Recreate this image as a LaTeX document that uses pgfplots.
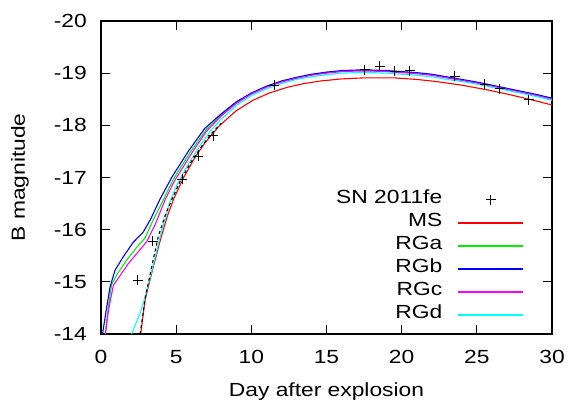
\documentclass[border=0pt]{standalone}
\usepackage{fontspec}
\setmainfont{Liberation Sans}[FakeStretch=1.2]
\usepackage{pgfplots}
\pgfplotsset{compat=1.18}
\definecolor{gpred}{RGB}{255,0,0}
\definecolor{gpgreen}{RGB}{0,240,0}
\definecolor{gpblue}{RGB}{0,0,255}
\definecolor{gpmagenta}{RGB}{255,0,255}
\definecolor{gpcyan}{RGB}{0,255,255}

\begin{document}
\fontsize{19}{23}\selectfont
\begin{tikzpicture}
\begin{axis}[
    scale only axis, width=451pt, height=313pt,
    xmin=0, xmax=30, ymin=-20, ymax=-14, y dir=reverse,
    xtick={0,5,...,30}, ytick={-20,-19,...,-14},
    xticklabel={\pgfmathprintnumber[assume math mode=true]{\tick}},
    yticklabel={\pgfmathprintnumber[assume math mode=true]{\tick}},
    xticklabel style={inner sep=0pt, yshift=-16pt},
    yticklabel style={inner sep=0pt, xshift=-14pt},
    tick align=inside, xtick pos=both, ytick pos=both,
    major tick length=9pt, minor tick num=0,
    axis line style={line width=1.2pt},
    every tick/.style={black, line width=1pt},
    xlabel={Day after explosion}, ylabel={B magnitude},
    xlabel style={at={([yshift=-49pt]axis description cs:0.5,0)}, anchor=north, inner sep=0pt},
    ylabel style={at={([xshift=-72pt]axis description cs:0,0.5)}, anchor=south, inner sep=0pt},
    legend image code/.code={\draw[mark repeat=2,mark phase=2,#1,line width=1.6pt] plot coordinates {(0pt,0pt) (32.5pt,0pt) (65pt,0pt)};},
    legend style={draw=none, fill=none, inner sep=0pt, at={(0.938,0.466)}, anchor=north east,
        legend plot pos=right, cells={anchor=east}, column sep=15pt, row sep=0pt,
        nodes={inner sep=0pt, text height=15pt, text depth=8pt}},
    legend cell align=right,
  ]
  % SN 2011fe observed B band
  \addplot[only marks, mark=+, mark size=5pt, black, mark options={line width=0.8pt}] coordinates {
    (2.45,-15.03)(3.45,-15.78)(5.42,-16.97)(6.47,-17.41)(7.48,-17.80)
    (11.53,-18.77)(17.53,-19.07)(18.53,-19.13)(19.53,-19.04)(20.53,-19.05)
    (23.53,-18.94)(25.53,-18.79)(26.53,-18.70)(28.45,-18.49)};
  \addlegendentry{SN 2011fe}
  % MS
  \addplot[gpred, line width=1.1pt, no marks] coordinates {
    (2.64,-14.0)(2.93,-14.65)(3.4,-15.2)(3.9,-15.75)(4.4,-16.25)(4.85,-16.6)
    (5.5,-17.0)(6.2,-17.36)(6.9,-17.66)(7.9,-18.0)(9.0,-18.28)(10.1,-18.48)
    (11.2,-18.62)(12.4,-18.73)(13.5,-18.8)(14.6,-18.85)(16.0,-18.89)(17.5,-18.91)
    (19.5,-18.91)(21.0,-18.88)(22.3,-18.84)(24.0,-18.77)(25.7,-18.68)(27.0,-18.6)
    (28.5,-18.5)(30.0,-18.39)};
  \addlegendentry{MS}
  % RGa
  \addplot[gpgreen, line width=1.1pt, no marks] coordinates {
    (0.27,-14.0)(0.49,-14.52)(0.71,-14.95)(1.04,-15.13)(1.71,-15.42)(2.37,-15.66)
    (2.93,-15.84)(3.48,-16.19)(4.15,-16.57)(4.8,-16.96)(5.9,-17.47)(7.0,-17.92)
    (8.0,-18.2)(9.0,-18.44)(10.0,-18.61)(11.0,-18.74)(12.0,-18.84)(13.0,-18.91)
    (14.0,-18.97)(15.0,-19.01)(16.0,-19.04)(17.0,-19.05)(18.0,-19.05)(19.0,-19.04)
    (20.0,-19.02)(21.0,-19.0)(22.0,-18.97)(23.0,-18.92)(24.0,-18.87)(25.0,-18.82)
    (26.0,-18.76)(27.0,-18.7)(28.0,-18.64)(29.0,-18.58)(30.0,-18.51)};
  \addlegendentry{RGa}
  % RGb
  \addplot[gpblue, line width=1.1pt, no marks] coordinates {
    (0.1,-14.0)(0.35,-14.46)(0.6,-14.9)(0.93,-15.22)(1.48,-15.48)(2.15,-15.76)
    (2.8,-15.95)(3.3,-16.2)(3.9,-16.57)(4.7,-17.0)(5.8,-17.5)(6.9,-17.94)
    (8.0,-18.22)(9.0,-18.45)(10.0,-18.62)(11.0,-18.75)(12.0,-18.85)(13.0,-18.92)
    (14.0,-18.98)(15.0,-19.02)(16.0,-19.05)(17.0,-19.06)(18.0,-19.06)(19.0,-19.05)
    (20.0,-19.03)(21.0,-19.01)(22.0,-18.98)(23.0,-18.93)(24.0,-18.88)(25.0,-18.83)
    (26.0,-18.77)(27.0,-18.71)(28.0,-18.65)(29.0,-18.59)(30.0,-18.52)};
  \addlegendentry{RGb}
  % RGc
  \addplot[gpmagenta, line width=1.1pt, no marks] coordinates {
    (0.3,-14.0)(0.5,-14.46)(0.82,-14.93)(1.15,-15.07)(1.82,-15.35)(2.37,-15.54)
    (3.04,-15.77)(3.59,-16.09)(4.26,-16.57)(4.9,-16.94)(6.0,-17.45)(7.0,-17.88)
    (8.0,-18.18)(9.0,-18.42)(10.0,-18.6)(11.0,-18.73)(12.0,-18.83)(13.0,-18.9)
    (14.0,-18.96)(15.0,-19.0)(16.0,-19.03)(17.0,-19.04)(18.0,-19.04)(19.0,-19.03)
    (20.0,-19.01)(21.0,-18.99)(22.0,-18.96)(23.0,-18.91)(24.0,-18.86)(25.0,-18.81)
    (26.0,-18.75)(27.0,-18.69)(28.0,-18.63)(29.0,-18.57)(30.0,-18.5)};
  \addlegendentry{RGc}
  % RGd
  \addplot[gpcyan, line width=1.1pt, no marks] coordinates {
    (2.04,-14.0)(2.6,-14.4)(2.9,-14.68)(3.5,-15.35)(4.0,-15.95)(4.6,-16.55)
    (5.2,-16.95)(5.9,-17.3)(6.6,-17.62)(7.3,-17.9)(8.0,-18.12)(9.0,-18.38)
    (10.0,-18.57)(11.0,-18.7)(12.0,-18.8)(13.0,-18.88)(14.0,-18.93)(15.0,-18.97)
    (16.0,-19.0)(17.0,-19.01)(18.0,-19.01)(19.0,-19.0)(20.0,-18.98)(21.0,-18.96)
    (22.0,-18.93)(23.0,-18.88)(24.0,-18.84)(25.0,-18.79)(26.0,-18.73)(27.0,-18.67)
    (28.0,-18.61)(29.0,-18.55)(30.0,-18.48)};
  \addlegendentry{RGd}
  % fit to the early rise
  \addplot[black, dashed, line width=1.1pt, no marks, forget plot] coordinates {
    (2.6,-14.0)(2.95,-14.7)(3.37,-15.29)(3.81,-15.87)(4.3,-16.3)(4.7,-16.57)
    (5.3,-16.95)(6.0,-17.3)(6.7,-17.6)(7.4,-17.86)(8.0,-18.04)};
\end{axis}
\pgfresetboundingbox
\path ([shift={(-101pt,-71pt)}]current axis.south west) rectangle ([shift={(22pt,21pt)}]current axis.north east);
\end{tikzpicture}
\end{document}
